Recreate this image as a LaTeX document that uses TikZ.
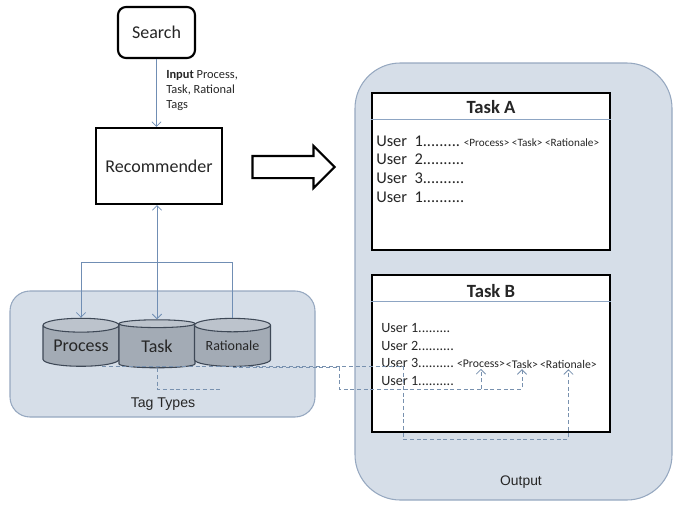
\documentclass[tikz,border=0pt]{standalone}
\usepackage{fontspec}
\setmainfont{Carlito}
\newfontfamily\arialfont{Liberation Sans}
\usetikzlibrary{arrows.meta,positioning,shapes.geometric,shapes.arrows}
\definecolor{panelfill}{RGB}{214,222,232}
\definecolor{paneldraw}{RGB}{150,168,192}
\definecolor{linkblue}{RGB}{112,142,180}
\definecolor{tracegray}{RGB}{120,145,175}
\definecolor{cylbody}{RGB}{163,171,181}
\definecolor{cylend}{RGB}{188,195,204}
\definecolor{cyldraw}{RGB}{62,72,86}
\definecolor{textdark}{RGB}{38,38,38}

\begin{document}
\begin{tikzpicture}[x=0.75pt,y=-0.75pt,>={Straight Barb[length=3.5pt,width=7pt]}, every node/.style={text=textdark}]
    % Styles
    \tikzset{panel/.style   ={fill=panelfill,draw=paneldraw,line width=0.8pt}}
    \tikzset{plainbox/.style={draw=black,line width=1.6pt,fill=white,inner sep=0pt}}
    \tikzset{bigfont/.style ={font=\fontsize{13.5}{16}\selectfont}}
    \tikzset{db/.style      ={cylinder,shape border rotate=90,aspect=0.25,draw=cyldraw,line width=0.8pt,
                              cylinder uses custom fill,cylinder body fill=cylbody,cylinder end fill=cylend,
                              minimum width=57pt,minimum height=36pt,inner sep=0pt}}
    \tikzset{link/.style    ={draw=linkblue,line width=0.6pt}}
    \tikzset{trace/.style   ={draw=tracegray,densely dashed,line width=0.6pt}}
    \tikzset{hdrline/.style ={draw=linkblue!80,line width=0.6pt}}
    \tikzset{userline/.style={anchor=west,inner sep=0pt,font=\fontsize{10.6}{13}\selectfont}}
    \tikzset{tagtext/.style ={inner sep=0.6pt,font=\fontsize{8.8}{10}\selectfont}}

    \useasboundingbox (0,0) rectangle (677,504);

    % Containers
    \node[panel,rounded corners=15pt,minimum width=228.75pt,minimum height=94.5pt] (tagpanel) at (162.5,354) {};
    \node[panel,rounded corners=34pt,minimum width=237.75pt,minimum height=327.75pt] (outpanel) at (513.5,281.5) {};
    \node[font=\arialfont\fontsize{10.6}{12}\selectfont] (tagtitle) at (163,404) {Tag Types};
    \node[font=\arialfont\fontsize{10.4}{12}\selectfont] (outtitle) at (521,482) {Output};

    % Search and recommender
    \node[plainbox,rounded corners=6pt,minimum width=57.75pt,minimum height=38.25pt,bigfont] (search) at (156.5,32.5) {Search};
    \node[plainbox,minimum width=94.5pt,minimum height=57pt,bigfont] (recommender) at (159,166) {Recommender};
    \node[anchor=west,align=left,inner sep=0pt,font=\fontsize{9.3}{11.25}\selectfont] (inputlbl) at (166,91) {\textbf{Input} Process,\\Task, Rational\\Tags};
    \node[single arrow,draw=black,line width=1.6pt,fill=white,minimum height=61.5pt,inner xsep=0pt,inner ysep=7.5pt,
          single arrow head extend=7.5pt] (bigarrow) at (288,167) {};

    % Tag stores
    \node[db,bigfont] (process) at (81,346) {Process};
    \node[db,bigfont] (task) at (157,346) {Task};
    \node[db,font=\fontsize{10.5}{12}\selectfont] (rationale) at (232.5,346) {Rationale};

    \draw[link,->] (search.south) -- (search.south |- recommender.north);
    \draw[link,<->] (task.north) -- (task.north |- recommender.south);
    \coordinate (split) at (0,262);
    \draw[link,->] (rationale.north) |- (process.north |- split) -- (process.north);

    % Task A
    \node[plainbox,minimum width=178.5pt,minimum height=117.75pt] (taskA) at (491,171.5) {};
    \coordinate (hdrA) at (0,119);
    \draw[hdrline] (taskA.west |- hdrA) -- (taskA.east |- hdrA);
    \node[font=\bfseries\fontsize{14}{16}\selectfont] (titleA) at (491,107) {Task A};
    \node[anchor=west,align=left,inner sep=0pt,font=\fontsize{12.3}{14}\selectfont] (usersA) at (376,169)
         {User\ \ 1.........\ {\fontsize{8.4}{10}\selectfont <Process> <Task> <Rationale>}\\User\ \ 2..........\\User\ \ 3..........\\User\ \ 1..........};

    % Task B
    \node[plainbox,minimum width=178.5pt,minimum height=117.75pt] (taskB) at (491,353.5) {};
    \coordinate (hdrB) at (0,301);
    \draw[hdrline] (taskB.west |- hdrB) -- (taskB.east |- hdrB);
    \node[font=\bfseries\fontsize{14}{16}\selectfont] (titleB) at (491,291) {Task B};
    \node[userline] (userB1) at (381,328) {User 1.........};
    \node[userline] (userB2) at (381,346) {User 2..........};
    \node[userline] (userB3) at (381,363) {User 3..........};
    \node[userline] (userB4) at (381,381) {User 1..........};
    \node[tagtext,anchor=west] (tagP) at (456,364) {<Process>};
    \node[tagtext,right=-0.8pt of tagP] (tagT) {<Task>};
    \node[tagtext,right=0pt of tagT] (tagR) {<Rationale>};

    % Tag traces (dotted)
    \coordinate (turnR) at (403,439);
    \coordinate (turnT) at (339,389);
    \coordinate (stubend) at (220,389);
    \draw[trace,->] ([xshift=16pt]process.south) -| (turnR) -| (tagR.south);
    \draw[trace,->] (rationale.south) -| (turnT) -| (tagT.south);
    \draw[trace,->] (tagP.south |- turnT) -- (tagP.south);
    \draw[trace] (task.south) |- (stubend);
\end{tikzpicture}
\end{document}
